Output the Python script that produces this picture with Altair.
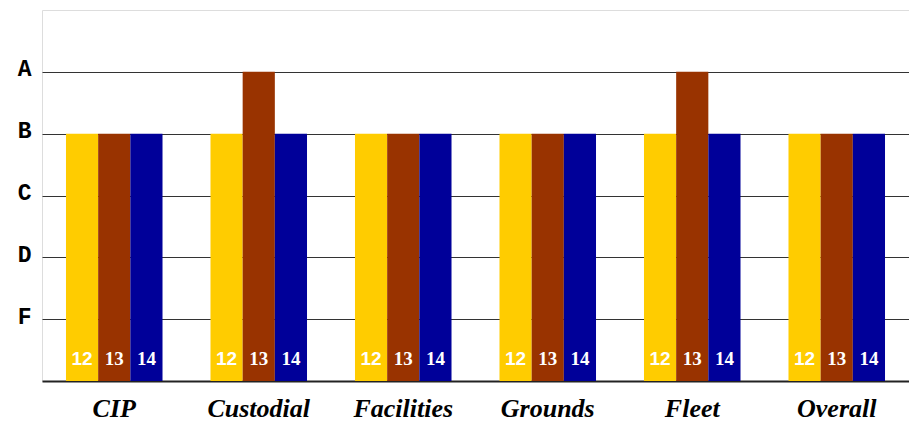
import altair as alt
import pandas as pd

categories = ["CIP", "Custodial", "Facilities", "Grounds", "Fleet", "Overall"]
years = ["12", "13", "14"]
grades_12 = ["B", "B", "B", "B", "B", "B"]
grades_13 = ["B", "A", "B", "B", "A", "B"]
grades_14 = ["B", "B", "B", "B", "B", "B"]
grade_scale = {"A": 5, "B": 4, "C": 3, "D": 2, "F": 1}
colors = ["#FFCC00", "#993300", "#000099"]

rows = []
for yr, grades in zip(years, [grades_12, grades_13, grades_14]):
    for cat, g in zip(categories, grades):
        rows.append({"category": cat, "year": yr, "grade": g, "score": grade_scale[g]})
df = pd.DataFrame(rows)

x_enc = alt.X(
    "category:N",
    sort=categories,
    scale=alt.Scale(paddingInner=0.332, paddingOuter=0.166),
    axis=alt.Axis(
        title=None, labelAngle=0, ticks=False, domain=True, domainColor="#222222",
        domainWidth=2, labelFont="Liberation Serif", labelFontSize=26,
        labelFontWeight="bold", labelFontStyle="italic", labelColor="#000000",
        labelPadding=35, labelBaseline="alphabetic",
    ),
)
xoff = alt.XOffset("year:N", sort=years, scale=alt.Scale(paddingInner=0, paddingOuter=0))

bars = alt.Chart(df).mark_bar().encode(
    x=x_enc,
    xOffset=xoff,
    y=alt.Y(
        "score:Q",
        scale=alt.Scale(domain=[0, 6], nice=False, zero=True),
        axis=alt.Axis(
            title=None, values=[1, 2, 3, 4, 5],
            labelExpr="['', 'F', 'D', 'C', 'B', 'A'][datum.value]",
            grid=True, gridColor="#333333", gridWidth=1, domain=False, ticks=False,
            labelFont="Liberation Mono", labelFontWeight="bold", labelFontSize=23,
            labelColor="#000000", labelPadding=11, labelOffset=-3,
        ),
    ),
    color=alt.Color("year:N", sort=years,
                    scale=alt.Scale(domain=years, range=colors), legend=None),
)

lab12 = alt.Chart(df).transform_filter("datum.year == '12'").mark_text(
    color="white", font="Liberation Sans", fontWeight="bold", fontSize=19,
    baseline="middle", dy=-22,
).encode(x=x_enc, xOffset=xoff, y=alt.datum(0), text="year:N")

lab1314 = alt.Chart(df).transform_filter("datum.year != '12'").mark_text(
    color="white", font="Liberation Serif", fontWeight="bold", fontSize=19,
    baseline="middle", dy=-22,
).encode(x=x_enc, xOffset=xoff, y=alt.datum(0), text="year:N")

chart = (bars + lab12 + lab1314).properties(
    width=867, height=371,
    autosize=alt.AutoSizeParams(type="none"),
    padding={"left": 34, "top": 2, "right": 0, "bottom": 42},
).configure_view(stroke="#222222", strokeWidth=1.5).configure(background="white")

chart.save("out.html", embed_options={"renderer": "svg", "actions": False})
